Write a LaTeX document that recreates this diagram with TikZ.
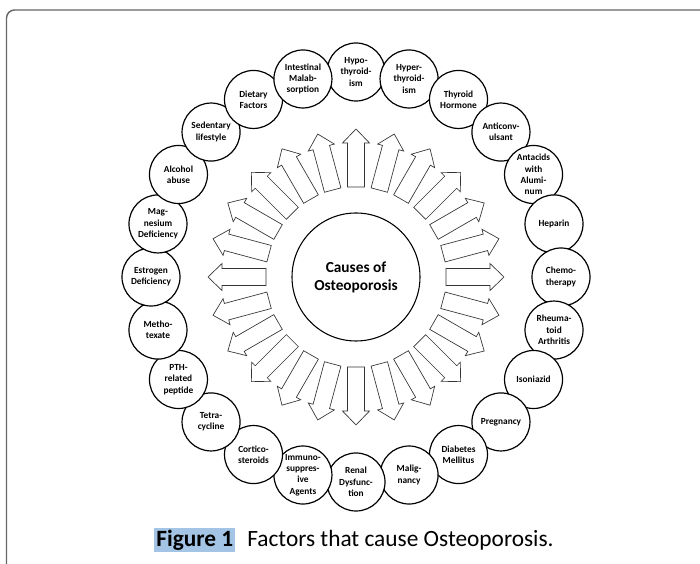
\documentclass[tikz,border=0pt]{standalone}
\usepackage{fontspec}
\setmainfont{Carlito}
\usepackage{tikz}
\definecolor{capblue}{RGB}{164,196,230}
\newcommand{\FRAME}[0]{black!60}

\begin{document}
\begin{tikzpicture}[x=0.75pt, y=0.75pt,
  cause/.style={circle, draw, line width=0.9pt, fill=white, minimum size=43.5pt, inner sep=0pt, align=center, font=\fontsize{7}{8.5}\selectfont\bfseries},
  core/.style={circle, draw, line width=0.8pt, minimum size=96pt, inner sep=0pt, align=center, font=\fontsize{11.5}{13.5}\selectfont\bfseries},
  causearrow/.style={draw=black!80, line width=0.5pt, fill=white}]

  \newcommand\R{205}
  \newcommand\RA{90}   %% tail of arrow
  \newcommand\RB{134}  %% base of head
  \newcommand\RC{148}  %% tip

  \useasboundingbox (0,0) rectangle (700,564);
  \draw[\FRAME, line width=1.1pt, rounded corners=6pt] (6.5,-20) -- (6.5,554) -- (720,554);

  \coordinate (c) at (356,287);
  \node[core] (core) at (c) {Causes of\\Osteoporosis};

  \foreach \a in {0,15,...,345}
    \draw[causearrow, shift={(c)}, rotate=\a] (\RA,-8.5) -- (\RB,-8.5) -- (\RB,-13.5) -- (\RC,0)
      -- (\RB,13.5) -- (\RB,8.5) -- (\RA,8.5) -- cycle;

  %% clockwise from the top
  \node[cause] (hypo) at ([shift={(90:\R)}]c) {Hypo-\\thyroid-\\ism};
  \node[cause] (hyper) at ([shift={(75:\R)}]c) {Hyper-\\thyroid-\\ism};
  \node[cause] (hormone) at ([shift={(60:\R)}]c) {Thyroid\\Hormone};
  \node[cause] (anticonv) at ([shift={(45:\R)}]c) {Anticonv-\\ulsant};
  \node[cause] (antacid) at ([shift={(30:\R)}]c) {Antacids\\with\\Alumi-\\num};
  \node[cause] (heparin) at ([shift={(15:\R)}]c) {Heparin};
  \node[cause] (chemo) at ([shift={(0:\R)}]c) {Chemo-\\therapy};
  \node[cause] (rheuma) at ([shift={(-15:\R)}]c) {Rheuma-\\toid\\Arthritis};
  \node[cause] (isoniazid) at ([shift={(-30:\R)}]c) {Isoniazid};
  \node[cause] (pregnancy) at ([shift={(-45:\R)}]c) {Pregnancy};
  \node[cause] (diabetes) at ([shift={(-60:\R)}]c) {Diabetes\\Mellitus};
  \node[cause] (malignancy) at ([shift={(-75:\R)}]c) {Malig-\\nancy};
  \node[cause] (renal) at ([shift={(-90:\R)}]c) {Renal\\Dysfunc-\\tion};
  \node[cause] (immuno) at ([shift={(-105:\R)}]c) {Immuno-\\suppres-\\ive\\Agents};
  \node[cause] (cortico) at ([shift={(-120:\R)}]c) {Cortico-\\steroids};
  \node[cause] (tetra) at ([shift={(-135:\R)}]c) {Tetra-\\cycline};
  \node[cause] (pth) at ([shift={(-150:\R)}]c) {PTH-\\related\\peptide};
  \node[cause] (metho) at ([shift={(-165:\R)}]c) {Metho-\\texate};
  \node[cause] (estrogen) at ([shift={(180:\R)}]c) {Estrogen\\Deficiency};
  \node[cause] (magnesium) at ([shift={(165:\R)}]c) {Mag-\\nesium\\Deficiency};
  \node[cause] (alcohol) at ([shift={(150:\R)}]c) {Alcohol\\abuse};
  \node[cause] (sedentary) at ([shift={(135:\R)}]c) {Sedentary\\lifestyle};
  \node[cause] (dietary) at ([shift={(120:\R)}]c) {Dietary\\Factors};
  \node[cause] (intestinal) at ([shift={(105:\R)}]c) {Intestinal\\Malab-\\sorption};

  \node[font=\fontsize{17.5}{20}\selectfont] (caption) at (354,24)
    {\fboxsep=1.5pt\colorbox{capblue}{\bfseries Figure 1}\hspace{9pt}Factors that cause Osteoporosis.};

\end{tikzpicture}
\end{document}
